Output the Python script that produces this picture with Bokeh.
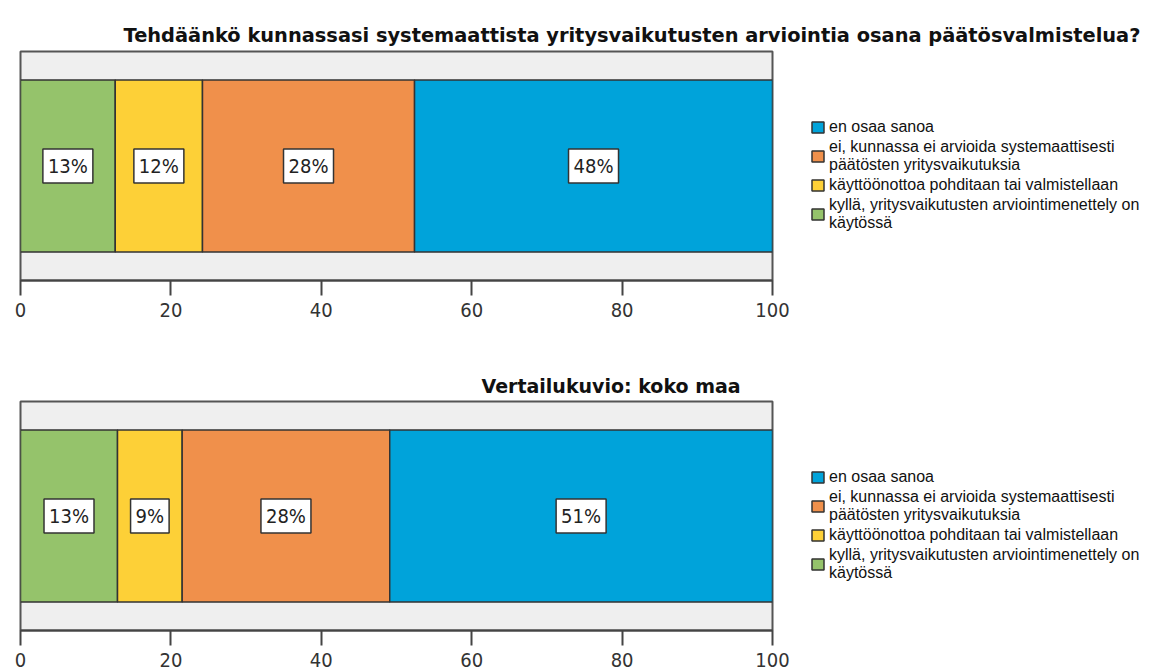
import numpy as np
from bokeh.plotting import figure
from bokeh.models import Range1d, ColumnDataSource, Legend, LegendItem, FixedTicker
from bokeh.layouts import column
from bokeh.core.properties import value
from bokeh.embed import file_html
from bokeh.resources import INLINE

# Data (stacking order from left: green, yellow, orange, blue)
categories = [
    "kyllä, yritysvaikutusten arviointimenettely on\nkäytössä",
    "käyttöönottoa pohditaan tai valmistellaan",
    "ei, kunnassa ei arvioida systemaattisesti\npäätösten yritysvaikutuksia",
    "en osaa sanoa",
]
colors = ["#95C36B", "#FDD037", "#F0904B", "#00A3DA"]
local_values = [12.6, 11.6, 28.2, 47.6]
national_values = [12.9, 8.6, 27.6, 50.9]
x_ticks = [0, 20, 40, 60, 80, 100]
title_top = "Tehdäänkö kunnassasi systemaattista yritysvaikutusten arviointia osana päätösvalmistelua?"
title_bottom = "Vertailukuvio: koko maa"

NARROW_NAME = "DejaVu Sans Condensed, DejaVu Sans, sans-serif"


def make_panel(title, vals, title_offset, title_size, top_border, bottom_border):
    p = figure(frame_width=752, frame_height=229,
               x_range=Range1d(0, 100), y_range=Range1d(0, 1),
               output_backend="svg", toolbar_location=None,
               y_axis_location=None,
               min_border_left=20, min_border_right=370,
               min_border_top=top_border, min_border_bottom=bottom_border)
    p.grid.visible = False
    p.background_fill_color = "#EFEFEF"
    p.border_fill_color = "white"
    p.outline_line_color = "#555555"
    p.outline_line_width = 2

    v = np.array(vals)
    rights = np.cumsum(v)
    lefts = rights - v
    src = ColumnDataSource(dict(
        left=lefts, right=rights, mid=(lefts + rights) / 2,
        y=[0.5] * len(v), color=colors, cat=categories,
        label=[f"{int(round(x))}%" for x in v],
    ))
    r = p.hbar(y="y", left="left", right="right", height=0.751,
               fill_color="color", line_color="#333333", line_width=1.5,
               source=src)
    p.text(x="mid", y="y", text="label", source=src,
           text_align="center", text_baseline="middle",
           text_font=value(NARROW_NAME), text_font_size="20px", text_color="#222222",
           background_fill_color="white", border_line_color="#333333",
           border_line_width=1.5, padding=5)

    ax = p.xaxis[0]
    ax.ticker = FixedTicker(ticks=x_ticks)
    ax.major_tick_out = 15
    ax.major_tick_in = 0
    ax.minor_tick_line_color = None
    ax.axis_line_color = "#444444"
    ax.axis_line_width = 2
    ax.major_tick_line_color = "#444444"
    ax.major_tick_line_width = 2
    ax.major_label_text_font = NARROW_NAME
    ax.major_label_text_font_size = "20px"
    ax.major_label_text_color = "#333333"
    ax.major_label_standoff = 7

    p.title.text = title
    p.title.text_font = "DejaVu Sans"
    p.title.text_font_style = "bold"
    p.title.text_font_size = title_size
    p.title.align = "left"
    p.title.offset = title_offset
    p.title.text_color = "#111111"

    items = [LegendItem(label=categories[i], renderers=[r], index=i) for i in [3, 2, 1, 0]]
    legend = Legend(items=items, location=(38, 48), padding=0, margin=0,
                    border_line_alpha=0, background_fill_alpha=0,
                    glyph_width=15, glyph_height=14,
                    label_text_font="Liberation Sans",
                    label_text_font_size="16px", label_text_color="#111111",
                    label_height=16, spacing=2, label_standoff=4)
    p.add_layout(legend, "right")
    return p


p1 = make_panel(title_top, local_values, 103, "19.4px", 51, 78)
p2 = make_panel(title_bottom, national_values, 461, "19px", 43, 42)
layout = column(p1, p2, spacing=0)

open("out.html", "w").write(file_html(layout, INLINE))
